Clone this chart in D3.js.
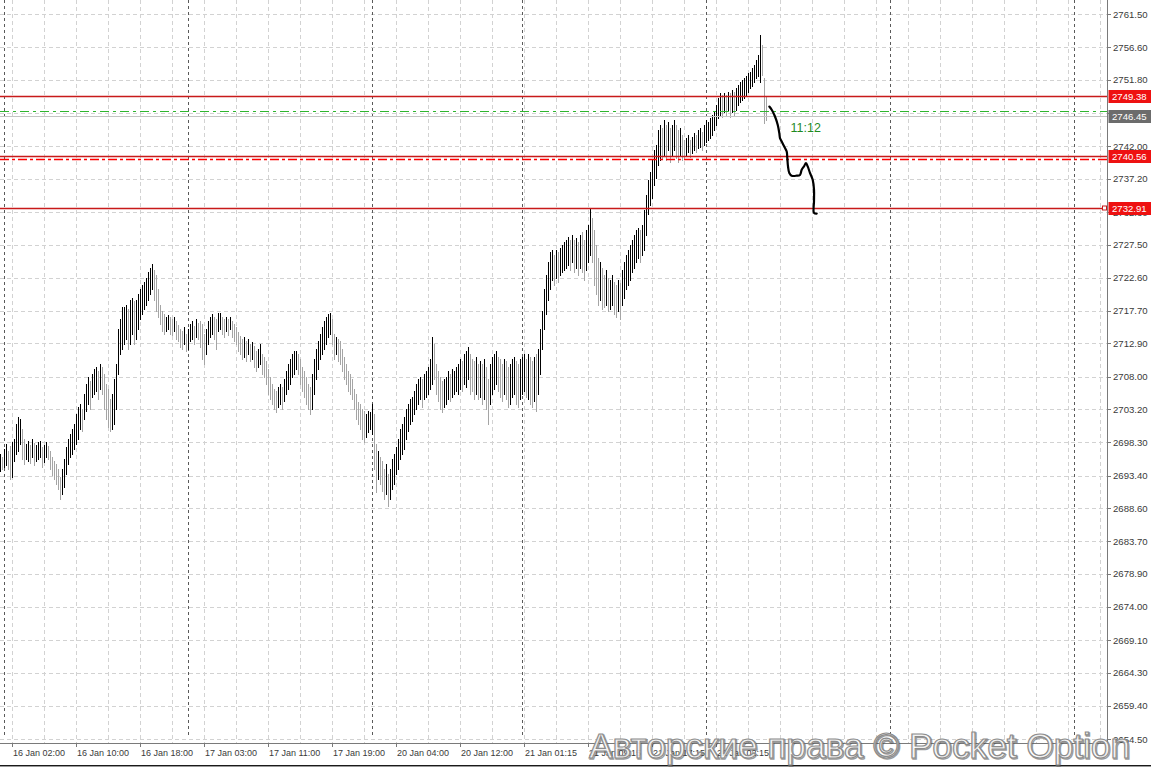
<!DOCTYPE html>
<html><head><meta charset="utf-8">
<script src="https://cdn.jsdelivr.net/npm/d3@7"></script>
<style>html,body{margin:0;padding:0;background:#fff;overflow:hidden}</style>
</head><body>
<svg id="c" width="1151" height="768"></svg>
<script>
// ---- data (M15 bars, index 0 = first bar at left edge) ----
const highs=[2696.55,2696.11,2697.29,2698.03,2696.99,2697.73,2698.32,2698.76,2700.97,2702.0,
2701.71,2700.24,2698.76,2698.03,2698.47,2697.88,2698.76,2698.17,2697.88,2698.32,
2698.47,2697.58,2697.88,2698.32,2697.73,2696.99,2696.11,2695.52,2695.08,2694.34,
2693.16,2694.34,2695.81,2697.58,2698.76,2699.5,2700.24,2700.97,2702.45,2703.48,
2703.92,2703.19,2705.4,2706.86,2707.9,2707.31,2708.34,2709.07,2709.37,2708.78,
2709.81,2709.37,2708.34,2706.86,2706.13,2704.66,2705.4,2707.6,2709.81,2714.97,
2716.44,2718.21,2718.21,2718.65,2717.92,2719.39,2719.68,2719.1,2719.39,2720.13,
2720.87,2721.6,2722.04,2722.63,2723.52,2724.11,2724.7,2723.81,2723.07,2720.87,
2718.65,2717.62,2717.18,2716.74,2717.03,2716.74,2716.44,2716.88,2716.15,2715.56,
2714.97,2714.67,2715.26,2714.23,2714.97,2715.71,2716.15,2715.41,2716.44,2715.85,
2716.15,2715.71,2714.23,2714.97,2716.15,2716.74,2717.18,2716.74,2716.44,2717.33,
2717.47,2716.74,2716.44,2716.74,2716.44,2716.74,2716.15,2715.71,2715.26,2714.53,
2713.94,2713.49,2713.79,2713.2,2713.49,2712.76,2713.05,2712.47,2711.73,2712.02,
2712.76,2711.28,2710.84,2710.25,2709.07,2707.9,2706.86,2706.13,2705.83,2706.42,
2706.86,2706.42,2707.6,2708.78,2709.81,2710.55,2711.28,2711.73,2711.73,2711.28,
2710.55,2709.37,2708.78,2707.9,2706.86,2706.42,2708.34,2710.55,2712.02,2713.2,
2714.23,2715.26,2716.15,2716.74,2717.18,2717.47,2716.44,2714.23,2713.79,2713.49,
2713.2,2712.02,2710.84,2709.81,2708.78,2708.34,2707.6,2706.13,2705.4,2704.22,
2703.92,2703.19,2702.89,2702.45,2702.89,2702.74,2703.92,2702.45,2698.03,2696.99,
2696.11,2695.52,2694.34,2695.08,2693.6,2694.34,2695.81,2696.55,2697.58,2698.76,
2700.24,2700.97,2702.0,2703.19,2703.92,2704.66,2704.95,2705.83,2706.86,2707.6,
2707.9,2707.6,2708.34,2708.78,2709.37,2710.55,2713.79,2712.76,2709.81,2708.78,
2707.9,2707.31,2707.6,2707.9,2708.78,2708.34,2709.07,2708.78,2709.37,2709.81,
2710.55,2710.25,2711.28,2711.73,2712.32,2711.28,2710.55,2710.25,2710.84,2709.81,
2710.25,2709.81,2710.55,2709.37,2707.6,2709.81,2710.84,2711.28,2711.73,2710.84,
2710.55,2709.81,2710.55,2710.25,2709.37,2709.81,2710.55,2710.84,2710.25,2709.81,
2710.55,2710.84,2711.28,2710.55,2711.28,2710.84,2710.25,2710.84,2711.28,2712.02,
2714.97,2717.62,2720.87,2723.07,2724.99,2726.47,2726.76,2726.02,2726.76,2726.47,
2727.06,2727.5,2727.94,2728.23,2728.68,2728.23,2728.97,2728.23,2728.53,2727.94,
2728.97,2729.41,2728.23,2729.71,2730.45,2732.95,2731.48,2729.71,2727.5,2725.58,
2724.99,2724.11,2723.07,2723.81,2722.63,2722.34,2723.07,2722.04,2721.6,2722.34,
2721.9,2723.81,2724.99,2726.02,2726.76,2727.5,2728.23,2728.97,2729.71,2730.0,
2729.71,2730.45,2732.66,2734.87,2737.08,2738.26,2740.03,2741.5,2742.24,2744.45,
2745.18,2744.74,2745.92,2745.18,2745.63,2744.74,2745.18,2745.92,2745.18,2744.45,
2744.74,2743.71,2742.97,2743.27,2743.71,2742.97,2743.42,2744.0,2743.71,2744.45,
2744.74,2744.15,2745.18,2745.92,2745.63,2746.22,2746.66,2747.1,2748.13,2749.16,
2749.9,2749.61,2749.9,2749.61,2750.05,2749.9,2750.34,2750.05,2750.64,2751.08,
2751.52,2751.82,2752.11,2752.41,2752.85,2753.0,2753.59,2754.03,2754.77,2755.5,
2758.45,2756.98,2752.11,2749.31];
const lows=[2694.05,2694.34,2694.63,2694.93,2694.34,2692.87,2693.16,2695.52,2696.55,2696.99,
2698.03,2695.81,2695.08,2695.81,2695.52,2695.22,2696.11,2694.93,2695.52,2695.81,
2696.11,2694.63,2695.37,2696.11,2695.81,2694.34,2693.46,2692.87,2692.13,2691.39,
2689.92,2690.66,2691.69,2693.6,2695.08,2696.11,2696.55,2697.29,2698.03,2698.76,
2700.24,2699.94,2701.71,2702.89,2703.92,2703.19,2704.95,2705.4,2705.83,2704.66,
2706.13,2705.4,2703.19,2701.71,2700.53,2699.94,2700.24,2700.97,2703.19,2708.34,
2711.28,2712.02,2712.76,2713.49,2712.02,2712.76,2714.23,2712.76,2713.49,2714.97,
2716.44,2717.18,2717.92,2718.65,2719.39,2720.13,2720.87,2719.39,2717.62,2716.74,
2715.71,2714.67,2714.23,2714.67,2714.97,2714.23,2714.08,2714.67,2713.49,2713.2,
2712.32,2712.02,2712.76,2711.73,2712.02,2713.2,2713.49,2712.76,2713.79,2713.49,
2712.32,2710.55,2709.81,2711.28,2712.76,2713.79,2714.23,2713.49,2712.02,2714.67,
2714.97,2714.23,2713.79,2714.67,2714.08,2714.97,2713.79,2713.2,2712.76,2711.73,
2711.28,2710.55,2710.84,2710.25,2711.28,2710.25,2710.55,2709.37,2708.78,2709.37,
2709.81,2708.34,2707.9,2706.86,2705.4,2704.66,2703.92,2703.19,2702.74,2703.48,
2703.92,2703.19,2704.37,2705.4,2706.13,2706.86,2707.9,2708.34,2709.07,2708.34,
2706.86,2705.83,2704.95,2703.92,2703.19,2702.45,2703.19,2705.4,2707.6,2709.07,
2710.55,2711.28,2712.02,2712.76,2713.79,2714.23,2712.76,2710.55,2711.28,2710.25,
2709.81,2708.78,2707.6,2706.86,2705.83,2705.4,2704.66,2703.19,2701.71,2700.97,
2700.24,2698.76,2698.32,2699.06,2699.8,2700.24,2699.5,2694.34,2690.95,2692.87,
2692.13,2691.1,2689.92,2690.66,2688.89,2689.92,2691.39,2692.13,2693.6,2694.34,
2695.81,2696.55,2697.29,2698.76,2699.94,2700.97,2701.42,2702.45,2703.19,2703.92,
2704.66,2703.48,2704.66,2704.95,2705.4,2706.13,2706.86,2707.6,2705.4,2704.37,
2703.19,2702.74,2703.48,2703.92,2704.66,2704.37,2704.95,2705.4,2705.83,2705.4,
2706.13,2705.83,2706.86,2706.42,2707.6,2705.4,2705.83,2704.66,2705.4,2704.66,
2704.95,2703.92,2704.66,2703.19,2700.97,2703.92,2705.4,2706.13,2706.86,2705.83,
2704.95,2704.37,2705.4,2704.66,2703.48,2703.92,2704.95,2705.4,2703.92,2703.48,
2704.66,2705.4,2705.83,2704.95,2704.66,2703.92,2703.48,2704.37,2702.89,2705.4,
2708.34,2712.02,2714.97,2717.18,2719.39,2720.87,2722.34,2721.6,2722.63,2722.04,
2723.07,2723.52,2723.81,2724.11,2724.55,2723.81,2724.99,2723.52,2724.11,2723.07,
2724.11,2723.52,2722.34,2723.81,2724.99,2726.02,2724.99,2721.6,2720.13,2718.65,
2719.39,2717.92,2718.21,2718.65,2717.62,2717.92,2718.65,2717.18,2716.74,2717.62,
2716.44,2718.65,2719.68,2720.87,2721.6,2722.34,2723.52,2724.11,2724.99,2725.58,
2724.99,2726.02,2726.76,2728.97,2732.07,2733.39,2734.42,2736.34,2737.37,2739.29,
2740.03,2740.32,2740.76,2740.03,2741.5,2739.73,2740.76,2741.5,2740.32,2739.73,
2740.76,2740.03,2740.32,2740.76,2741.2,2740.47,2741.06,2741.5,2741.2,2741.8,
2741.94,2741.5,2742.24,2742.68,2742.97,2743.27,2743.71,2744.45,2745.18,2746.22,
2746.66,2746.36,2747.1,2746.66,2747.4,2746.36,2747.1,2746.66,2747.4,2748.13,
2748.57,2748.87,2749.16,2749.61,2750.05,2750.64,2750.93,2751.52,2752.11,2752.41,
2751.52,2752.56,2745.48,2745.92];

const priceTicks=[2761.50,2756.60,2751.80,2746.90,2742.00,2737.20,2732.30,2727.50,2722.60,2717.70,2712.90,2708.00,2703.20,2698.30,2693.40,2688.60,2683.70,2678.90,2674.00,2669.10,2664.30,2659.40,2654.50];
const timeLabels=["16 Jan 02:00","16 Jan 10:00","16 Jan 18:00","17 Jan 03:00","17 Jan 11:00","17 Jan 19:00","20 Jan 04:00","20 Jan 12:00","21 Jan 01:15","21 Jan 09:15","21 Jan 17:15","22 Jan 02:15"];
const timeLabelIdx=[6,38,70,102,134,166,198,230,262,294,326,358];
const daySepIdx=[2,94,186,261,353,445,537];
const levelPrices=[2749.38,2740.56,2732.91];
const levelDashPrice=2740.25;
const bidPrice=2746.45;
const askPrice=2747.25;
const forecastIdx=[384.65,385.85,387.5,388.85,389.65,390,390.85,391.65,392.5,393.35,393.65,394,394.65,395.85,398.35,400,400.85,402,403,403.85,405,406.35,407,407,407,408.35];
const forecastPrice=[2747.88,2747.4,2746.41,2745.18,2743.96,2743.22,2742.72,2742.24,2741.75,2741.25,2740.28,2739.04,2738.07,2737.67,2737.67,2737.78,2738.56,2739.04,2739.54,2739.04,2738.07,2737.08,2735.61,2733.89,2732.18,2732.07];
const timerText="11:12";
const watermark="Авторские права © Pocket Option";

// ---- drawing ----
const svg=d3.select('#c');
const AX=1107, AY=743;
const x=d3.scaleLinear().domain([0,553.5]).range([0,AX]);
const y=d3.scaleLinear().domain([2761.5,2654.5]).range([14.3,739]);
const px=v=>Math.round(x(v))+0.5, py=v=>Math.round(y(v))+0.5;
const FONT="'Liberation Sans', Arial, sans-serif";

svg.append('rect').attr('width',1151).attr('height',768).attr('fill','#fff');

// horizontal grid
svg.append('g').selectAll('line').data(priceTicks).join('line')
  .attr('x1',0).attr('x2',AX).attr('y1',d=>py(d)).attr('y2',d=>py(d))
  .attr('stroke','#d2d2d2').attr('stroke-dasharray','4,3');
// vertical grid
const vIdx=d3.range(6,553,16);
svg.append('g').selectAll('line').data(vIdx).join('line')
  .attr('x1',d=>px(d)).attr('x2',d=>px(d)).attr('y1',0).attr('y2',AY)
  .attr('stroke','#d2d2d2').attr('stroke-dasharray','4,3');
// day separators
svg.append('g').selectAll('line').data(daySepIdx).join('line')
  .attr('x1',d=>px(d)).attr('x2',d=>px(d)).attr('y1',0).attr('y2',AY-5)
  .attr('stroke','#5a5a5a').attr('stroke-dasharray','3,3');

// bars
const bars=highs.map((h,i)=>({i,h,l:lows[i],up:i===0||(h+lows[i])>=(highs[i-1]+lows[i-1])}));
svg.append('g').selectAll('line').data(bars).join('line')
  .attr('x1',d=>px(d.i)).attr('x2',d=>px(d.i))
  .attr('y1',d=>Math.round(y(d.h))).attr('y2',d=>Math.round(y(d.l))+1)
  .attr('stroke',d=>d.up?'#000':'#a5a5a5').attr('stroke-width',1);

// bid / ask lines
svg.append('line').attr('x1',0).attr('x2',AX).attr('y1',py(bidPrice)).attr('y2',py(bidPrice))
  .attr('stroke','#c4c4c4');
svg.append('line').attr('x1',0).attr('x2',AX).attr('y1',py(askPrice)).attr('y2',py(askPrice))
  .attr('stroke','#2fb52f').attr('stroke-width',1.2).attr('stroke-dasharray','9,4,3,4');
// levels
svg.append('line').attr('x1',0).attr('x2',AX).attr('y1',py(levelDashPrice)+1).attr('y2',py(levelDashPrice)+1)
  .attr('stroke','#ff0000').attr('stroke-width',1.4).attr('stroke-dasharray','9,3,3,3');
svg.append('g').selectAll('line').data(levelPrices).join('line')
  .attr('x1',0).attr('x2',AX).attr('y1',d=>py(d)).attr('y2',d=>py(d))
  .attr('stroke','#c81a1a').attr('stroke-width',1.3);

// forecast drawing
const fc=forecastIdx.map((v,k)=>[x(v),y(forecastPrice[k])]);
svg.append('path').attr('d',d3.line().curve(d3.curveCatmullRom)(fc))
  .attr('fill','none').attr('stroke','#000').attr('stroke-width',2.2)
  .attr('stroke-linejoin','round').attr('stroke-linecap','round');
svg.append('text').attr('x',x(395.3)).attr('y',y(2744.1)).text(timerText)
  .attr('font-family',FONT).attr('font-size',12.5).attr('fill','#1f8a1f');

// axes
svg.append('line').attr('x1',AX+0.5).attr('x2',AX+0.5).attr('y1',0).attr('y2',AY+0.5).attr('stroke','#7a7a7a');
svg.append('line').attr('x1',0).attr('x2',AX+0.5).attr('y1',AY+0.5).attr('y2',AY+0.5).attr('stroke','#7a7a7a');
svg.append('line').attr('x1',0).attr('x2',1151).attr('y1',765.5).attr('y2',765.5).attr('stroke','#1a1a1a');
svg.append('line').attr('x1',0).attr('x2',1151).attr('y1',766.5).attr('y2',766.5).attr('stroke','#9a9a9a');

const yt=svg.append('g');
yt.selectAll('line').data(priceTicks).join('line')
  .attr('x1',AX).attr('x2',AX+4).attr('y1',d=>py(d)).attr('y2',d=>py(d)).attr('stroke','#7a7a7a');
yt.selectAll('text').data(priceTicks).join('text')
  .attr('x',AX+6).attr('y',d=>y(d)+3.5).text(d=>d.toFixed(2))
  .attr('font-family',FONT).attr('font-size',9.6).attr('fill','#3a3a3a');

const xt=svg.append('g');
xt.selectAll('line').data(timeLabelIdx).join('line')
  .attr('x1',d=>px(d)).attr('x2',d=>px(d)).attr('y1',AY).attr('y2',AY+4).attr('stroke','#7a7a7a');
xt.selectAll('text').data(timeLabels).join('text')
  .attr('x',(d,k)=>x(timeLabelIdx[k])+1).attr('y',756).text(d=>d)
  .attr('font-family',FONT).attr('font-size',9).attr('fill','#3a3a3a');

// price boxes
const boxes=[...levelPrices.map(p=>({p,c:'#ee1111'})),{p:bidPrice,c:'#6c6c6c'}];
const bg=svg.append('g');
bg.selectAll('rect').data(boxes).join('rect')
  .attr('x',AX+1.5).attr('y',d=>Math.round(y(d.p))-6).attr('width',43).attr('height',13).attr('fill',d=>d.c);
bg.selectAll('text').data(boxes).join('text')
  .attr('x',AX+5).attr('y',d=>y(d.p)+3.7).text(d=>d.p.toFixed(2))
  .attr('font-family',FONT).attr('font-size',9.6).attr('fill','#fff');
svg.append('rect').attr('x',AX-4.5).attr('y',py(levelPrices[2])-2.5).attr('width',4).attr('height',4)
  .attr('fill','#fff').attr('stroke','#c81a1a');

// watermark
svg.append('text').attr('x',589).attr('y',758).text(watermark)
  .attr('font-family',FONT).attr('font-size',35).attr('textLength',541).attr('lengthAdjust','spacingAndGlyphs')
  .attr('fill','none').attr('stroke','#4a4a4a').attr('stroke-width',1.4).attr('opacity',0.55)
  .attr('transform','translate(1,1)');
svg.append('text').attr('x',589).attr('y',758).text(watermark)
  .attr('font-family',FONT).attr('font-size',35).attr('textLength',541).attr('lengthAdjust','spacingAndGlyphs')
  .attr('fill','#ffffff').attr('fill-opacity',0.85).attr('stroke','#8c8c8c').attr('stroke-width',1.2);
</script>
</body></html>
